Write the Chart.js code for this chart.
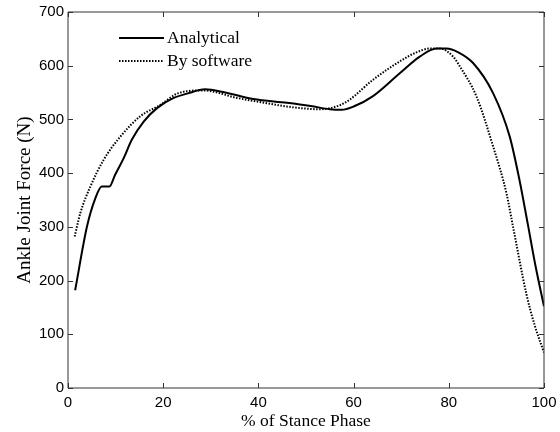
<!DOCTYPE html>
<html>
<head>
<meta charset="utf-8">
<script src="https://cdn.jsdelivr.net/npm/chart.js@4"></script>
<style>
  html, body { margin: 0; padding: 0; background: #fff; }
  #wrap { width: 560px; height: 432px; }
</style>
</head>
<body>
<div id="wrap"><canvas id="forceChart" width="560" height="432"></canvas></div>
<script>
// stance phase (%) and ankle joint force (N)
const xAnalytical = [1.5, 4, 5.7, 7.1, 8.7, 9.9, 11.7, 13.4, 15.9, 18.7, 22.2, 25, 28.8, 33, 38.9, 46, 51, 55, 57.5, 60, 64, 69.7, 73.9, 77.4, 79.5, 82, 85.1, 89.3, 92.8, 94.9, 96.6, 98.2, 100];
const yAnalytical = [182, 301, 352, 375, 375, 397, 428, 462, 496, 521, 540, 548, 556, 550, 538, 531, 525, 519, 518, 524, 543, 586, 617, 632, 632, 625, 605, 549, 468, 385, 305, 228, 152];

const xSoftware = [1.4, 2.6, 4.7, 7.5, 11, 15.2, 19.4, 23.2, 28.5, 35.5, 40, 46, 52.9, 57, 59.2, 64.1, 69.7, 73, 76, 78.1, 80.9, 82.3, 85.8, 89.3, 92.1, 93.5, 96.3, 98, 100];
const ySoftware = [282, 326, 375, 425, 468, 506, 527, 549, 554, 540, 533, 524, 519, 526, 537, 574, 608, 624, 632, 632, 617, 599, 543, 450, 363, 300, 175, 118, 66];

const xTicks = [0, 20, 40, 60, 80, 100];
const yTicks = [0, 100, 200, 300, 400, 500, 600, 700];

const sansFont = "'Liberation Sans', Arial, sans-serif";
const serifFont = "'Liberation Serif', 'Times New Roman', serif";

const toPoints = (xs, ys) => xs.map((x, i) => ({ x: x, y: ys[i] }));

// box + inward ticks on all four sides, legend inside the plot
const frameTicks = {
  id: "frameTicks",
  afterDraw(chart) {
    const { ctx, chartArea: a, scales } = chart;
    const len = 5;
    ctx.save();
    ctx.strokeStyle = "#333";
    ctx.lineWidth = 1;
    ctx.beginPath();
    ctx.rect(a.left, a.top, a.right - a.left, a.bottom - a.top);
    xTicks.forEach(v => {
      const px = Math.round(scales.x.getPixelForValue(v)) + 0.5;
      ctx.moveTo(px, a.bottom); ctx.lineTo(px, a.bottom - len);
      ctx.moveTo(px, a.top); ctx.lineTo(px, a.top + len);
    });
    yTicks.forEach(v => {
      const py = Math.round(scales.y.getPixelForValue(v)) + 0.5;
      ctx.moveTo(a.left, py); ctx.lineTo(a.left + len, py);
      ctx.moveTo(a.right, py); ctx.lineTo(a.right - len, py);
    });
    ctx.stroke();

    const lx = a.left + 51, ly = a.top + 26;
    chart.data.datasets.forEach((ds, i) => {
      const y = ly + i * 23;
      ctx.beginPath();
      ctx.strokeStyle = ds.borderColor;
      ctx.lineWidth = ds.borderWidth;
      ctx.setLineDash(ds.borderDash || []);
      ctx.moveTo(lx, y);
      ctx.lineTo(lx + 45, y);
      ctx.stroke();
      ctx.setLineDash([]);
      ctx.fillStyle = "#000";
      ctx.font = "17.5px " + serifFont;
      ctx.textBaseline = "middle";
      ctx.fillText(ds.label, lx + 48, y);
    });
    ctx.restore();
  }
};

new Chart(document.getElementById("forceChart"), {
  type: "line",
  data: {
    datasets: [
      {
        label: "Analytical",
        data: toPoints(xAnalytical, yAnalytical),
        borderColor: "#000",
        borderWidth: 2,
        pointRadius: 0,
        cubicInterpolationMode: "monotone"
      },
      {
        label: "By software",
        data: toPoints(xSoftware, ySoftware),
        borderColor: "#000",
        borderWidth: 2,
        borderDash: [1.5, 1.5],
        pointRadius: 0,
        cubicInterpolationMode: "monotone"
      }
    ]
  },
  options: {
    responsive: false,
    animation: false,
    layout: { padding: { top: 12, right: 16, left: 0, bottom: 0 } },
    plugins: {
      legend: { display: false },
      tooltip: { enabled: false }
    },
    scales: {
      x: {
        type: "linear",
        min: 0,
        max: 100,
        afterBuildTicks: s => { s.ticks = xTicks.map(v => ({ value: v })); },
        afterFit: s => { s.height = 44; s.paddingRight = 0; s.paddingLeft = 0; },
        grid: { display: false, drawTicks: false },
        border: { display: false },
        ticks: { color: "#000", font: { size: 15, family: sansFont }, padding: 6, maxRotation: 0 },
        title: { display: true, text: "% of Stance Phase", color: "#000", font: { size: 17.5, family: serifFont }, padding: { top: 0, bottom: 0 } }
      },
      y: {
        min: 0,
        max: 700,
        afterBuildTicks: s => { s.ticks = yTicks.map(v => ({ value: v })); },
        afterFit: s => { s.width = 68; s.paddingTop = 0; s.paddingBottom = 0; },
        grid: { display: false, drawTicks: false },
        border: { display: false },
        ticks: { color: "#000", font: { size: 15, family: sansFont }, padding: 4 },
        title: { display: true, text: "Ankle Joint Force (N)", color: "#000", font: { size: 19, family: serifFont }, padding: { top: 14, bottom: 0 } }
      }
    }
  },
  plugins: [frameTicks]
});
</script>
</body>
</html>
